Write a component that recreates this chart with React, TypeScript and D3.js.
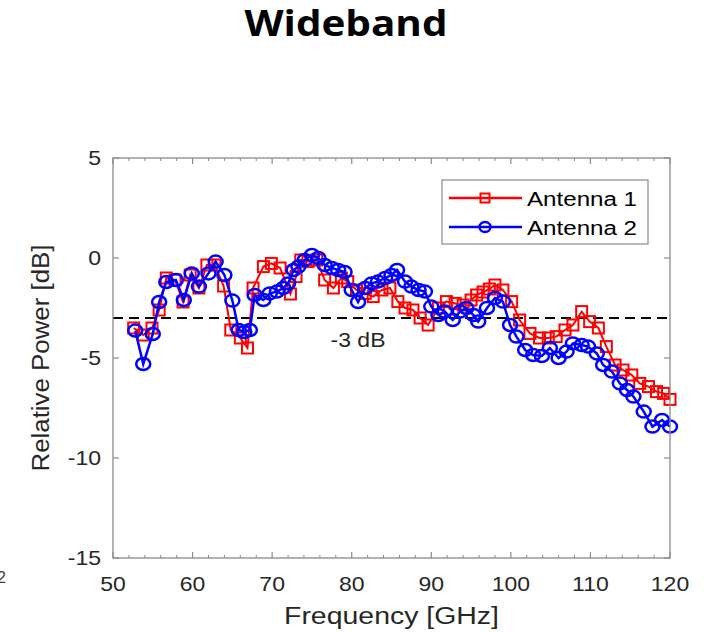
import React from "react";
import * as d3 from "d3";

const freq1 = [52.6,53.8,54.9,55.8,56.7,57.8,58.8,59.7,60.8,61.8,62.8,63.9,64.8,66.0,66.9,67.6,68.9,69.9,71.0,72.3,73.0,73.6,74.5,75.6,76.6,77.7,78.7,79.5,80.6,81.7,82.7,83.8,84.8,85.8,86.7,87.7,88.6,89.6,90.9,91.9,93.0,94.0,95.0,95.7,96.5,97.3,98.0,99.0,100.1,101.1,102.4,103.6,104.7,105.7,106.8,107.8,108.9,109.9,111.0,112.0,113.1,114.1,115.2,116.2,117.3,118.3,119.2,120.0];
const power1 = [-3.5,-3.85,-3.5,-2.6,-1.0,-1.1,-2.2,-0.85,-1.5,-0.35,-0.35,-1.4,-3.6,-4.0,-4.5,-1.5,-0.43,-0.27,-0.5,-1.8,-0.93,-0.1,-0.18,-0.1,-1.1,-1.5,-1.0,-1.18,-1.6,-1.77,-1.93,-1.6,-1.5,-2.18,-2.5,-2.6,-3.0,-3.35,-2.5,-2.18,-2.27,-2.35,-2.1,-1.85,-1.7,-1.55,-1.35,-1.6,-2.18,-3.1,-3.77,-4.0,-4.0,-3.93,-3.6,-3.35,-2.68,-3.18,-3.5,-4.43,-5.35,-5.6,-5.85,-6.27,-6.43,-6.68,-6.77,-7.07];

const freq2 = [52.8,53.8,55.0,55.8,56.7,57.9,58.9,59.9,60.8,62.0,62.9,64.0,65.0,65.8,66.5,67.2,67.8,68.9,69.7,70.6,71.4,72.0,72.7,73.3,74.1,75.0,75.8,76.6,77.5,78.3,79.1,80.0,80.8,81.7,82.5,83.3,84.2,85.0,85.7,86.7,87.5,88.4,89.2,90.0,90.9,91.7,92.7,93.6,94.4,95.3,95.9,97.0,98.0,99.0,99.9,100.7,101.8,102.8,103.9,104.9,106.0,107.0,107.8,108.9,109.7,110.8,111.6,112.7,113.7,114.6,115.4,116.7,117.8,119.0,120.0];
const power2 = [-3.63,-5.3,-3.8,-2.2,-1.2,-1.1,-2.1,-0.77,-1.43,-0.77,-0.18,-0.85,-2.13,-3.6,-3.7,-3.6,-1.85,-2.1,-1.77,-1.68,-1.5,-1.27,-0.6,-0.43,-0.1,0.15,0,-0.35,-0.5,-0.6,-0.7,-1.6,-2.2,-1.5,-1.27,-1.18,-1.0,-0.85,-0.6,-1.18,-1.43,-1.6,-1.68,-2.43,-2.85,-2.68,-3.1,-2.68,-2.5,-2.85,-3.18,-2.5,-2.0,-2.18,-3.35,-3.93,-4.6,-4.85,-4.9,-4.5,-5.0,-4.68,-4.27,-4.35,-4.43,-4.77,-5.35,-5.68,-6.27,-6.6,-6.93,-7.68,-8.43,-8.1,-8.43];

const xTicks = [50, 60, 70, 80, 90, 100, 110, 120];
const yTicks = [5, 0, -5, -10, -15];
const seriesNames = ["Antenna 1", "Antenna 2"];
const thresholdDb = -3;
const titleText = "Wideband";

const SX = 1.15;
const FONT = "'Liberation Sans', Arial, Helvetica, sans-serif";
const AX = "#8a8a8a";
const TXT = "#262626";

function SText({ x, y, size, anchor = "middle", children, fill = TXT }: any) {
  return (
    <g transform={`translate(${x},${y}) scale(${SX},1)`}>
      <text x={0} y={0} fontSize={size} fontFamily={FONT} textAnchor={anchor} fill={fill}>
        {children}
      </text>
    </g>
  );
}

export default function App() {
  const W = 707, H = 633;
  const L = 113, R = 670, T = 158, B = 558;
  const x = d3.scaleLinear().domain([50, 120]).range([L, R]);
  const y = d3.scaleLinear().domain([-15, 5]).range([B, T]);
  const line = d3.line<[number, number]>().x(d => x(d[0])).y(d => y(d[1]));
  const d1 = freq1.map((f, i) => [f, power1[i]] as [number, number]);
  const d2 = freq2.map((f, i) => [f, power2[i]] as [number, number]);
  const minor = d3.range(50, 121, 2).filter(v => v % 10 !== 0);
  const sq = 11;

  return (
    <svg width={W} height={H} style={{ position: "absolute", left: 0, top: 0, background: "#fff" }}>
      <rect x={0} y={0} width={W} height={H} fill="#fff" />
      <text x={346} y={36} fontSize={36} fontWeight="bold" fontFamily="'Open Sans', 'Noto Sans', sans-serif" textAnchor="middle" textLength={203} lengthAdjust="spacingAndGlyphs" fill="#000">{titleText}</text>

      {/* dashed threshold */}
      <line x1={L} x2={R} y1={y(thresholdDb)} y2={y(thresholdDb)} stroke="#000" strokeWidth={2} strokeDasharray="10,6" />
      <SText x={358} y={347} size={20}>-3 dB</SText>

      {/* series 1 */}
      <path d={line(d1) || ""} fill="none" stroke="#ff0000" strokeWidth={2} />
      {d1.map((d, i) => (
        <rect key={"s" + i} x={x(d[0]) - sq / 2} y={y(d[1]) - sq / 2} width={sq} height={sq} fill="none" stroke="#ff0000" strokeWidth={2} />
      ))}
      {/* series 2 */}
      <path d={line(d2) || ""} fill="none" stroke="#0000ff" strokeWidth={2.5} />
      {d2.map((d, i) => (
        <ellipse key={"c" + i} cx={x(d[0])} cy={y(d[1])} rx={7} ry={6} fill="none" stroke="#0000ff" strokeWidth={2.5} />
      ))}

      {/* axes box */}
      <rect x={L} y={T} width={R - L} height={B - T} fill="none" stroke={AX} strokeWidth={1.3} />
      {xTicks.map(v => (
        <g key={"xt" + v}>
          <line x1={x(v)} x2={x(v)} y1={B} y2={B - 6} stroke={AX} strokeWidth={1.2} />
          <line x1={x(v)} x2={x(v)} y1={T} y2={T + 6} stroke={AX} strokeWidth={1.2} />
          <SText x={x(v)} y={591} size={20}>{v}</SText>
        </g>
      ))}
      {minor.map(v => (
        <g key={"xm" + v}>
          <line x1={x(v)} x2={x(v)} y1={B} y2={B - 3} stroke={AX} strokeWidth={1} />
          <line x1={x(v)} x2={x(v)} y1={T} y2={T + 3} stroke={AX} strokeWidth={1} />
        </g>
      ))}
      {yTicks.map(v => (
        <g key={"yt" + v}>
          <line x1={L} x2={L + 6} y1={y(v)} y2={y(v)} stroke={AX} strokeWidth={1.2} />
          <line x1={R} x2={R - 6} y1={y(v)} y2={y(v)} stroke={AX} strokeWidth={1.2} />
          <SText x={101} y={y(v) + 7} size={20} anchor="end">{v}</SText>
        </g>
      ))}

      {/* axis labels */}
      <text x={(L + R) / 2} y={624} fontSize={23} fontFamily={FONT} textAnchor="middle" fill={TXT} textLength={215} lengthAdjust="spacingAndGlyphs">Frequency [GHz]</text>
      <text transform={`translate(49,${(T + B) / 2}) rotate(-90)`} x={0} y={0} fontSize={23} fontFamily={FONT} textAnchor="middle" fill={TXT} textLength={227} lengthAdjust="spacingAndGlyphs">Relative Power [dB]</text>

      {/* stray page number */}
      <text x={-3} y={583} fontSize={16} fontFamily={FONT} fill="#404040">2</text>

      {/* legend */}
      <rect x={442} y={180} width={206} height={64} fill="#fff" stroke={AX} strokeWidth={1.2} />
      <line x1={449} x2={522} y1={198} y2={198} stroke="#ff0000" strokeWidth={2.5} />
      <rect x={485 - 4.5} y={198 - 4.5} width={9} height={9} fill="none" stroke="#ff0000" strokeWidth={2} />
      <SText x={527} y={206} size={21} anchor="start" fill="#000">{seriesNames[0]}</SText>
      <line x1={449} x2={522} y1={227} y2={227} stroke="#0000ff" strokeWidth={2.5} />
      <ellipse cx={485} cy={227} rx={5.5} ry={5} fill="none" stroke="#0000ff" strokeWidth={2.5} />
      <SText x={527} y={235} size={21} anchor="start" fill="#000">{seriesNames[1]}</SText>
    </svg>
  );
}
